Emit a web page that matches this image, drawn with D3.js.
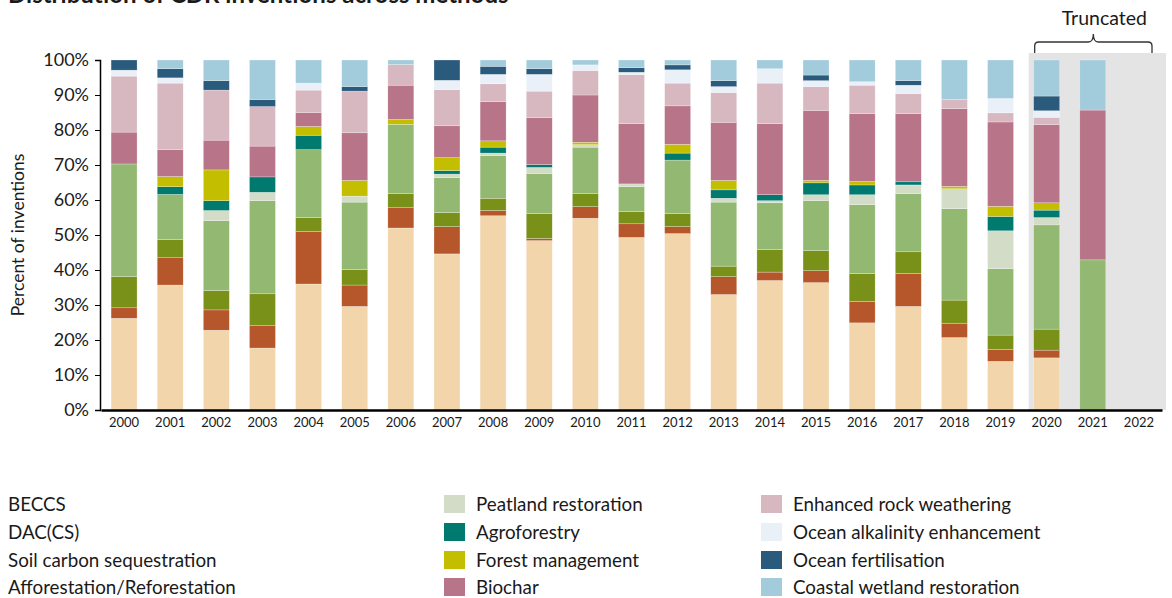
<!DOCTYPE html>
<html>
<head>
<meta charset="utf-8">
<script src="https://cdn.jsdelivr.net/npm/d3@7"></script>
<style>
  body { margin: 0; background: #fff; }
  svg text { font-family: Lato, "Open Sans", sans-serif; fill: #1a1a1a; }
</style>
</head>
<body>
<div id="chart"></div>
<script>
const years = ["2000","2001","2002","2003","2004","2005","2006","2007","2008","2009","2010",
  "2011","2012","2013","2014","2015","2016","2017","2018","2019","2020","2021","2022"];

const seriesNames = ["BECCS","DAC(CS)","Soil carbon sequestration","Afforestation/Reforestation",
  "Peatland restoration","Agroforestry","Forest management","Biochar",
  "Enhanced rock weathering","Ocean alkalinity enhancement","Ocean fertilisation","Coastal wetland restoration"];

const beccs    = [26.2,35.7,22.8,17.7,36.0,29.6,52.0,44.6,55.5,48.4,54.8,49.3,50.4,33.0,37.0,36.4,24.9,29.6,20.7,13.9,14.9,0,0];
const dac      = [3.0,7.8,5.8,6.4,15.0,6.1,5.8,7.8,1.5,0.6,3.3,3.9,2.0,5.1,2.4,3.4,6.1,9.4,4.1,3.4,2.2,0,0];
const soil     = [8.9,5.2,5.5,9.1,4.0,4.4,4.0,4.0,3.5,7.1,3.7,3.5,3.7,3.0,6.4,5.7,8.0,6.2,6.6,4.1,6.0,0,0];
const affor    = [32.2,12.9,20.0,26.6,19.4,19.3,19.8,10.0,12.2,11.5,13.3,7.1,15.3,18.3,13.4,14.3,19.7,16.6,26.1,19.0,29.8,42.9,0];
const peat     = [0,0,2.9,2.4,0,1.7,0,1.0,0.7,1.7,0.7,0.8,0,1.1,0.6,1.7,2.8,2.5,5.7,10.8,2.1,0,0];
const agro     = [0,2.2,2.8,4.4,4.1,0,0,1.0,1.7,0.8,0,0,2.0,2.4,1.7,3.4,2.8,0.9,0,4.1,2.1,0,0];
const forest   = [0,2.9,8.8,0,2.5,4.5,1.4,3.7,1.8,0,0.7,0,2.5,2.7,0,0.7,1.0,0,0.7,2.9,2.1,0,0];
const biochar  = [9.1,7.7,8.5,8.8,4.0,13.6,9.8,9.1,11.2,13.4,13.5,17.2,11.0,16.6,20.3,20.0,19.4,19.5,22.2,24.1,22.3,42.8,0];
const erw      = [16.0,19.0,14.3,11.3,6.4,11.9,5.9,10.3,5.1,7.6,7.0,14.0,6.5,8.5,11.6,6.8,8.1,5.7,2.6,2.6,2.1,0,0];
const oae      = [1.7,1.5,0,0,2.0,0,0,2.7,2.7,4.8,1.6,0.7,3.8,1.7,4.1,1.7,1.0,2.4,0,4.1,1.9,0,0];
const oceanFert= [2.9,2.6,2.7,2.0,0,1.3,0,5.8,2.3,1.6,0,1.3,1.4,1.7,0,1.6,0,1.3,0,0,4.2,0,0];
const coastal  = [0,2.5,5.9,11.3,6.6,7.6,1.3,0,1.8,2.5,1.4,2.2,1.4,5.9,2.5,4.3,6.2,5.9,11.3,11.0,10.3,14.3,0];

const yTicks = [0,10,20,30,40,50,60,70,80,90,100];
const truncatedYears = ["2020","2021","2022"];

const colors = ["#f2d5ab","#b5572a","#799119","#93b872","#d3dcc6","#00796f",
  "#c3bf00","#b87489","#d8b8c0","#eaf0f8","#2a5a7c","#a2ccdb"];

const seriesValues = [beccs,dac,soil,affor,peat,agro,forest,biochar,erw,oae,oceanFert,coastal];

// rows for d3.stack
const table = years.map((y, i) => {
  const row = { year: y };
  seriesNames.forEach((s, k) => { row[s] = seriesValues[k][i]; });
  return row;
});

const width = 1172, height = 598;
const margin = { top: 60, right: 10, bottom: 188, left: 101 };

const svg = d3.select("#chart").append("svg")
  .attr("width", width)
  .attr("height", height);

const x = d3.scaleBand()
  .domain(years)
  .range([margin.left, 1162])
  .paddingInner(0.437)
  .paddingOuter(0.2185);

const y = d3.scaleLinear()
  .domain([0, 100])
  .range([410, margin.top]);

const color = d3.scaleOrdinal().domain(seriesNames).range(colors);

// title (cropped at the top in the original)
svg.append("text")
  .attr("x", 8)
  .attr("y", 3)
  .style("font-size", "24px")
  .style("font-weight", "bold")
  .text("Distribution of CDR inventions across methods");

// grey area for truncated years
const gx0 = x(truncatedYears[0]) - 5;
svg.append("rect")
  .attr("x", gx0)
  .attr("y", y(100) - 7)
  .attr("width", 1166 - gx0)
  .attr("height", y(0) - y(100) + 7)
  .attr("fill", "#e4e4e4");

// bracket + label
const bx0 = x(truncatedYears[0]) + 1, bx1 = 1152, bTop = 42, bBot = 53;
const bMid = (bx0 + bx1) / 2;
svg.append("path")
  .attr("d", `M${bx0},${bBot} L${bx0},${bTop + 4} Q${bx0},${bTop} ${bx0 + 4},${bTop}
    L${bMid - 5},${bTop} Q${bMid},${bTop} ${bMid},${bTop - 8}
    Q${bMid},${bTop} ${bMid + 5},${bTop} L${bx1 - 4},${bTop}
    Q${bx1},${bTop} ${bx1},${bTop + 4} L${bx1},${bBot}`)
  .attr("fill", "none")
  .attr("stroke", "#333")
  .attr("stroke-width", 1.3);

svg.append("text")
  .attr("x", bMid + 11)
  .attr("y", 25)
  .attr("text-anchor", "middle")
  .style("font-size", "19.5px")
  .text("Truncated");

// stacked bars
const stacked = d3.stack().keys(seriesNames)(table);

svg.append("g")
  .selectAll("g")
  .data(stacked)
  .join("g")
  .attr("fill", d => color(d.key))
  .selectAll("rect")
  .data(d => d)
  .join("rect")
  .attr("x", d => x(d.data.year))
  .attr("y", d => y(d[1]))
  .attr("height", d => Math.max(0, y(d[0]) - y(d[1])))
  .attr("width", x.bandwidth())
  .attr("stroke", "#fff")
  .attr("stroke-width", 0.5)
  .attr("stroke-opacity", 0.5);

// axes
const yAxis = svg.append("g")
  .attr("transform", `translate(${margin.left - 1}, 0)`)
  .call(d3.axisLeft(y).tickValues(yTicks).tickFormat(d => d + "%").tickSizeOuter(0).tickSize(5));
yAxis.select(".domain").attr("stroke", "#000").attr("stroke-width", 1.5);
yAxis.selectAll(".tick line").attr("stroke", "#000");
yAxis.selectAll(".tick text")
  .attr("x", -11)
  .style("font-family", "Lato, sans-serif")
  .style("font-size", "18px")
  .attr("fill", "#1a1a1a");

const xAxis = svg.append("g")
  .attr("transform", `translate(0, ${y(0)})`)
  .call(d3.axisBottom(x).tickSize(0).tickSizeOuter(0));
xAxis.select(".domain").attr("stroke", "#000").attr("stroke-width", 2.5);
xAxis.selectAll(".tick text")
  .attr("y", 8)
  .style("font-family", "Lato, sans-serif")
  .style("font-size", "13px")
  .attr("fill", "#1a1a1a");

// y axis title
svg.append("text")
  .attr("transform", `translate(24, ${(y(0) + y(100)) / 2}) rotate(-90)`)
  .attr("text-anchor", "middle")
  .style("font-size", "17.5px")
  .text("Percent of inventions");

// legend: three columns of four; first column has no visible swatch
const colX = [8, 444, 761];
const rowY = [504, 532, 560, 587];
seriesNames.forEach((name, i) => {
  const col = Math.floor(i / 4), row = i % 4;
  const g = svg.append("g").attr("transform", `translate(${colX[col]}, ${rowY[row]})`);
  let tx = 0;
  if (col > 0) {
    g.append("rect")
      .attr("x", 0).attr("y", -9)
      .attr("width", 21).attr("height", 18)
      .attr("fill", color(name));
    tx = 32;
  }
  g.append("text")
    .attr("x", tx)
    .attr("dy", "0.35em")
    .style("font-size", "18.8px")
    .text(name);
});
</script>
</body>
</html>
